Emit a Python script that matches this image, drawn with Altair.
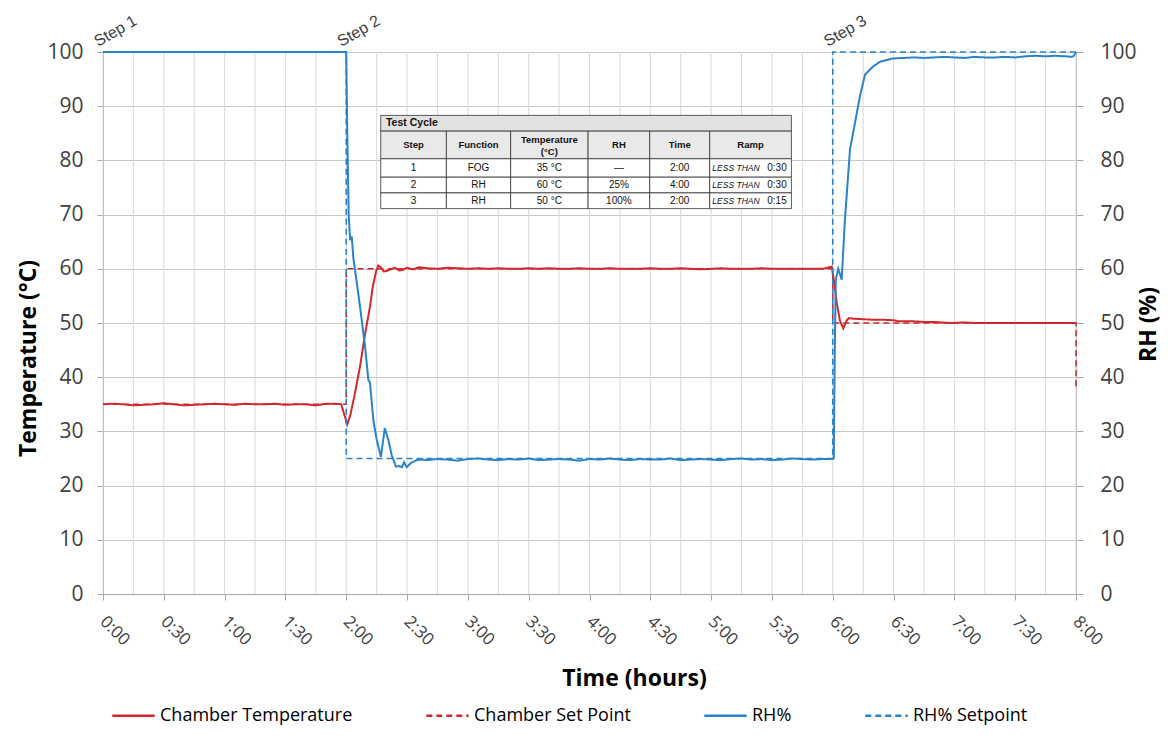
import altair as alt
import pandas as pd

RED = "#D0282E"
BLUE = "#2A82C8"
FONT = "Open Sans"

# ---------------- series data (time in minutes, value) ----------------
temp_t = [0, 5, 10, 15, 20, 25, 30, 35, 40, 45, 50, 55, 60, 65, 70, 75, 80, 85, 90, 95,
          100, 105, 110, 115, 117.5, 120.5, 122, 124, 126.8, 129.3, 131.7, 133, 134.7,
          135.8, 137, 138.5, 140, 142, 144, 146, 148, 150, 153, 156,
          160, 165, 170, 175, 180, 185, 190, 195, 200, 205, 210, 215, 220, 225, 230,
          235, 240, 245, 250, 255, 260, 265, 270, 275, 280, 285, 290, 295, 300, 305,
          310, 315, 320, 325, 330, 335, 340, 345, 350, 355, 359.5,
          360.5, 362, 363.5, 365.2, 366.9, 368, 370, 375, 380, 385, 390, 393, 400, 405,
          410, 418, 425, 430, 440, 450, 460, 470, 480]
temp_v = [35.0, 35.1, 35.0, 34.8, 34.9, 35.0, 35.2, 35.0, 34.8, 34.9, 35.0, 35.1, 35.0,
          34.9, 35.1, 35.0, 35.0, 35.1, 34.9, 35.0, 35.0, 34.8, 35.1, 35.1, 35.0, 31.3,
          33.0, 36.5, 42.0, 48.0, 53.0, 56.5, 59.5, 60.6, 60.3, 59.5, 59.6, 59.9, 60.2,
          59.7, 59.8, 60.2, 59.9, 60.3,
          60.1, 60.0, 60.2, 60.1, 60.0, 60.1, 60.0, 60.1, 60.0, 60.0, 60.1, 60.0, 60.1,
          60.0, 60.0, 60.1, 60.0, 60.0, 60.1, 60.0, 60.0, 60.0, 60.1, 60.0, 60.0, 60.1,
          60.0, 59.9, 60.0, 60.1, 60.0, 60.0, 60.0, 60.1, 60.0, 60.0, 60.0, 60.0, 60.0,
          60.0, 60.4,
          58.0, 53.7, 50.5, 49.0, 50.5, 50.9, 50.8, 50.7, 50.6, 50.6, 50.5, 50.3, 50.3,
          50.2, 50.2, 50.0, 50.1, 50.0, 50.0, 50.0, 50.0, 50.0, 50.0]

setp_t = [0, 120, 120, 360, 360, 480, 480]
setp_v = [35, 35, 60, 60, 50, 50, 38]

rh_t = [0, 120, 120.5, 121.2, 121.9, 122.7, 123.5, 125, 126.8, 129.3, 130.9, 131.7,
        133.4, 135, 137.1, 139, 140.8, 142.5, 144.5, 146, 147.5, 148.5, 149.8, 152,
        154.8, 157,
        160, 165, 170, 175, 180, 185, 190, 195, 200, 205, 210, 215, 220, 225, 230,
        235, 240, 245, 250, 255, 260, 265, 270, 275, 280, 285, 290, 295, 300, 305,
        310, 315, 320, 325, 330, 335, 340, 345, 350, 355, 359.5,
        360.5, 361, 361.5, 362.7, 364.4, 366, 368.5, 371, 373.4, 375.9, 379.8, 383.3,
        389.7, 395, 400, 405, 410, 415, 420, 425, 430, 435, 440, 445, 450, 455, 460,
        465, 470, 475, 478, 479, 480]
rh_v = [100, 100, 85, 70, 65.3, 66.0, 62.0, 58.0, 53.0, 45.6, 39.5, 39.0, 32.0, 28.5,
        25.3, 30.6, 28.4, 25.5, 23.5, 23.6, 23.4, 24.3, 23.4, 24.2, 24.7, 24.8,
        24.7, 24.9, 24.8, 24.6, 24.9, 25.0, 24.8, 24.7, 24.9, 24.8, 25.0, 24.7, 24.8,
        24.9, 24.8, 24.6, 24.9, 24.8, 25.0, 24.8, 24.7, 24.9, 24.8, 24.8, 25.0, 24.7,
        24.8, 24.9, 24.8, 24.7, 24.9, 25.0, 24.8, 24.9, 24.7, 24.8, 25.0, 24.9, 24.8,
        24.9, 24.9,
        25.0, 45.0, 58.0, 60.0, 58.0, 69.0, 82.0, 87.0, 91.8, 95.8, 97.3, 98.2,
        98.8, 98.9, 99.0, 98.9, 99.0, 99.1, 99.0, 98.9, 99.1, 99.0, 99.0, 99.1, 99.0,
        99.2, 99.3, 99.2, 99.3, 99.2, 99.1, 99.3, 100]

rhsp_t = [0, 120, 120, 360, 360, 480]
rhsp_v = [100, 100, 25, 25, 100, 100]

series_names = ["Chamber Temperature", "Chamber Set Point", "RH%", "RH% Setpoint"]

step_labels = ["Step 1", "Step 2", "Step 3"]
step_times = [0, 120, 360]

grid_times = list(range(0, 481, 15))
x_ticks = list(range(0, 481, 30))
y_ticks = list(range(0, 101, 10))

# ---------------- inset table ----------------
table_title = "Test Cycle"
table_header = ["Step", "Function", "Temperature", "RH", "Time", "Ramp"]
table_rows = [
    ["1", "FOG", "35 °C", "—", "2:00", "0:30"],
    ["2", "RH", "60 °C", "25%", "4:00", "0:30"],
    ["3", "RH", "50 °C", "100%", "2:00", "0:15"],
]
ramp_prefix = "LESS THAN"
# column edges (minutes on the time axis) and row edges (axis units)
col_edges = [137.0, 169.4, 201.1, 239.3, 269.7, 299.3, 339.6]
row_edges = [88.3, 85.4, 80.3, 76.9, 74.0, 71.1]

# ---------------- build frames ----------------
def frame(t, v, name):
    return pd.DataFrame({"t": t, "v": v, "series": name})

df_temp = frame(temp_t, temp_v, series_names[0])
df_setp = frame(setp_t, setp_v, series_names[1])
df_rh = frame(rh_t, rh_v, series_names[2])
df_rhsp = frame(rhsp_t, rhsp_v, series_names[3])

label_expr = "floor(datum.value / 60) + ':' + (datum.value % 60 < 10 ? '0' : '') + (datum.value % 60)"

X = alt.X("t:Q",
          scale=alt.Scale(domain=[0, 480], nice=False, zero=False),
          axis=alt.Axis(values=x_ticks, labelExpr=label_expr, labelAngle=45,
                        labelFontSize=17, labelColor="#404040", labelFont=FONT,
                        labelAlign="left", labelBaseline="top",
                        labelPadding=13, labelOffset=5, tickSize=6,
                        tickColor="#a6a6a6", domainColor="#a6a6a6", grid=False,
                        labelOverlap=False, labelBound=False, labelFlush=False,
                        title="Time (hours)", titleFont=FONT, titleFontSize=23,
                        titleFontWeight="bold", titleColor="#000000",
                        titleX=531, titleY=84, titleAlign="center",
                        titleBaseline="middle", titleAnchor="start"))

YL = alt.Y("v:Q",
           scale=alt.Scale(domain=[0, 100], nice=False),
           axis=alt.Axis(values=y_ticks, grid=True, gridColor="#c8c8c8",
                         labelFontSize=21, labelColor="#404040", labelFont=FONT,
                         labelPadding=14, tickSize=6, tickColor="#a6a6a6",
                         domainColor="#a6a6a6",
                         title="Temperature  (°C)", titleFont=FONT, titleFontSize=23,
                         titleFontWeight="bold", titleColor="#000000",
                         titleAngle=270, titleX=-75, titleY=306,
                         titleAlign="center", titleBaseline="middle",
                         titleAnchor="start"))

YR = alt.Y("v:Q",
           scale=alt.Scale(domain=[0, 100], nice=False),
           axis=alt.Axis(orient="right", values=y_ticks, grid=False,
                         labelFontSize=21, labelColor="#404040", labelFont=FONT,
                         labelPadding=17, tickSize=7, tickColor="#a6a6a6",
                         domainColor="#a6a6a6",
                         title="RH (%)", titleFont=FONT, titleFontSize=23,
                         titleFontWeight="bold", titleColor="#000000",
                         titleAngle=270, titleX=72, titleY=272,
                         titleAlign="center", titleBaseline="middle",
                         titleAnchor="start"))

color_scale = alt.Scale(domain=series_names, range=[RED, RED, BLUE, BLUE])
dash_scale = alt.Scale(domain=series_names, range=[[1, 0], [6, 4], [1, 0], [6, 4]])
legend = alt.Legend(orient="none", legendX=8, legendY=641, direction="horizontal",
                    columns=4, columnPadding=68, title=None, symbolType="stroke",
                    symbolSize=1800, symbolStrokeWidth=2.5, labelFont=FONT,
                    labelFontSize=18, labelColor="#000000", labelOffset=4,
                    labelLimit=400)

COLOR = alt.Color("series:N", scale=color_scale, legend=legend)
DASH = alt.StrokeDash("series:N", scale=dash_scale, legend=legend)

# vertical grid every 15 min
grid_layer = alt.Chart(pd.DataFrame({"t": grid_times})).mark_rule(
    color="#dadada", strokeWidth=1).encode(x=X)

def series_layer(df, y, width):
    return alt.Chart(df).transform_window(index="row_number()").mark_line(
        strokeWidth=width).encode(x=X, y=y, color=COLOR, strokeDash=DASH,
                                  order="index:Q")

temp_layer = series_layer(df_temp, YL, 2)
setp_layer = series_layer(df_setp, YL, 1.6)
rh_layer = series_layer(df_rh, YR, 2)
rhsp_layer = series_layer(df_rhsp, YR, 1.6)

# step labels
df_steps = pd.DataFrame({"t": step_times, "v": [100] * 3, "label": step_labels})
step_layer = alt.Chart(df_steps).mark_text(
    angle=330, align="left", baseline="alphabetic", font="Liberation Sans",
    fontSize=16, color="#404040", xOffset=-5, yOffset=-5).encode(
    x=X, y=YL, text="label:N")

# table cells
cells = []
cells.append({"t": col_edges[0], "t2": col_edges[-1], "v": row_edges[0], "v2": row_edges[1], "fill": "#e2e2e2"})
for r in range(4):
    for c in range(6):
        cells.append({"t": col_edges[c], "t2": col_edges[c + 1],
                      "v": row_edges[r + 1], "v2": row_edges[r + 2],
                      "fill": "#e9e9e9" if r == 0 else "#ffffff"})
df_cells = pd.DataFrame(cells)
cell_layer = alt.Chart(df_cells).mark_rect(stroke="#333333", strokeWidth=0.8).encode(
    x=X, x2="t2:Q", y=YL, y2="v2:Q", fill=alt.Fill("fill:N", scale=None))

texts = []
centers = [(col_edges[i] + col_edges[i + 1]) / 2 for i in range(6)]
row_mid = [(row_edges[i] + row_edges[i + 1]) / 2 for i in range(5)]
texts.append({"t": col_edges[0] + 2.6, "v": row_mid[0], "txt": table_title, "kind": "title"})
for c, h in enumerate(table_header):
    if h == "Temperature":
        texts.append({"t": centers[c], "v": row_mid[1] + 1.0, "txt": "Temperature", "kind": "head"})
        texts.append({"t": centers[c], "v": row_mid[1] - 1.3, "txt": "(°C)", "kind": "head"})
    else:
        texts.append({"t": centers[c], "v": row_mid[1], "txt": h, "kind": "head"})
for r, row in enumerate(table_rows):
    for c, val in enumerate(row):
        if c == 5:
            texts.append({"t": col_edges[5] + 1.3, "v": row_mid[r + 2], "txt": ramp_prefix, "kind": "ital"})
            texts.append({"t": col_edges[6] - 2.3, "v": row_mid[r + 2], "txt": val, "kind": "right"})
        else:
            texts.append({"t": centers[c], "v": row_mid[r + 2], "txt": val, "kind": "body"})
df_text = pd.DataFrame(texts)

def tlayer(kind, size=10, **kw):
    return alt.Chart(df_text).transform_filter(f"datum.kind == '{kind}'").mark_text(
        font="Liberation Sans", fontSize=size, color="#111111", baseline="middle", **kw
    ).encode(x=X, y=YL, text="txt:N")

title_text = tlayer("title", size=10.5, align="left", fontWeight="bold")
head_text = tlayer("head", size=9.5, align="center", fontWeight="bold")
body_text = tlayer("body", align="center")
ital_text = tlayer("ital", size=8.5, align="left", fontStyle="italic")
right_text = tlayer("right", align="right")

left = alt.layer(grid_layer, temp_layer, setp_layer, cell_layer, title_text, head_text,
                 body_text, ital_text, right_text, step_layer)
right = alt.layer(rh_layer, rhsp_layer)

chart = alt.layer(left, right).resolve_scale(y="independent").properties(
    width=973, height=542,
    autosize=alt.AutoSizeParams(type="none"),
    padding={"left": 95, "top": 44, "right": 87, "bottom": 135},
).configure_view(stroke=None).configure(background="white")

chart.save("out.html", embed_options={"renderer": "svg", "actions": False})
